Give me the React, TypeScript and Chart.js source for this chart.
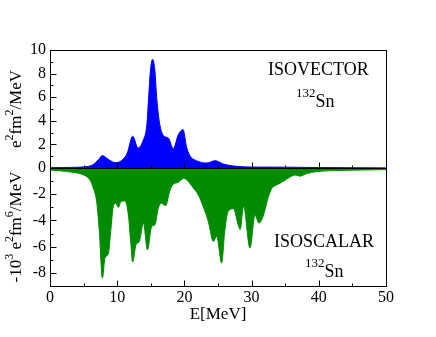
import React, { useEffect, useRef } from "react";
import { Chart, registerables } from "chart.js";

Chart.register(...registerables);

// Isovector strength (e^2 fm^2 / MeV) vs E [MeV]
const isovectorE = [0, 2, 4, 5.5, 6.4, 7.2, 7.8, 8.4, 8.9, 9.7, 10.7, 11.5, 12.3, 13.1, 13.9, 14.4, 14.7, 14.95, 15.27, 15.6, 15.9, 16.4, 17.1, 17.6, 18.35, 19.1, 19.8, 20.3, 20.8, 21.8, 23.3, 24.6, 25.8, 27.8, 30, 35, 40, 45, 50];
const isovectorS = [0.03, 0.04, 0.06, 0.12, 0.28, 0.7, 1.05, 0.85, 0.65, 0.45, 0.65, 1.27, 2.7, 1.7, 2.4, 3.6, 6.2, 8.3, 9.2, 8.3, 5.8, 3.5, 2.65, 2.55, 1.64, 2.83, 3.26, 1.84, 1.05, 0.62, 0.42, 0.62, 0.34, 0.14, 0.08, 0.07, 0.04, 0.02, 0.01];

// Isoscalar strength (-10^3 e^2 fm^6 / MeV) vs E [MeV]
const isoscalarE = [0, 3, 5, 5.95, 6.45, 6.94, 7.34, 7.8, 8.18, 8.7, 9.03, 9.42, 9.77, 10.17, 10.57, 11.16, 11.66, 12.0, 12.3, 12.8, 13.3, 13.9, 14.5, 15.13, 15.62, 16.1, 16.6, 17.2, 17.86, 18.35, 19.1, 19.9, 20.6, 21.3, 22.07, 22.8, 23.56, 24.3, 24.8, 25.55, 26.0, 26.5, 27.3, 28.0, 28.3, 28.8, 29.76, 30.5, 31.1, 31.7, 32.5, 33.0, 33.5, 34.2, 35.2, 36.5, 37.2, 38.2, 39.6, 42, 47, 50];
const isoscalarS = [-0.15, -0.3, -0.53, -0.91, -1.55, -2.56, -4.84, -8.4, -6.87, -6.5, -4.84, -2.94, -2.69, -3.0, -2.56, -2.51, -3.57, -5.6, -7.17, -5.85, -5.6, -4.2, -6.24, -4.46, -4.33, -3.07, -2.69, -2.87, -1.67, -1.24, -1.09, -0.79, -1.04, -1.5, -2.05, -2.94, -4.08, -5.6, -5.22, -7.25, -4.84, -3.32, -3.1, -4.33, -4.7, -2.9, -6.1, -3.6, -4.2, -3.7, -2.2, -1.55, -1.35, -1.17, -0.85, -0.53, -0.62, -0.42, -0.28, -0.2, -0.15, -0.12];

const xTicks = [0, 10, 20, 30, 40, 50];
const yTopTicks = [0, 2, 4, 6, 8, 10];
const yBotTicks = [-2, -4, -6, -8];

const FONT = "'Liberation Serif', 'Times New Roman', serif";
const BLUE = "#0000ff";
const GREEN = "#008b00";

type Seg = { t: string; sup?: boolean };

function drawRich(
  ctx: CanvasRenderingContext2D,
  segs: Seg[],
  x: number,
  y: number,
  size: number,
  supSize: number,
  raise: number,
  rotate: boolean,
  center: boolean
) {
  ctx.save();
  ctx.translate(x, y);
  if (rotate) ctx.rotate(-Math.PI / 2);
  const big = `${size}px ${FONT}`;
  const small = `${supSize}px ${FONT}`;
  let total = 0;
  for (const s of segs) {
    ctx.font = s.sup ? small : big;
    total += ctx.measureText(s.t).width;
  }
  let px = center ? -total / 2 : 0;
  ctx.textAlign = "left";
  ctx.textBaseline = "alphabetic";
  ctx.fillStyle = "#000";
  for (const s of segs) {
    ctx.font = s.sup ? small : big;
    ctx.fillText(s.t, px, s.sup ? -raise : 0);
    px += ctx.measureText(s.t).width;
  }
  ctx.restore();
}

const decor = {
  id: "decor",
  afterDatasetsDraw(chart: any) {
    const { ctx, chartArea: a, scales } = chart;
    const xs = scales.x;
    const yt = scales.yTop;
    const yb = scales.yBot;
    const L = Math.round(a.left) + 0.5;
    const R = Math.round(a.right) + 0.5;
    const T = Math.round(a.top) + 0.5;
    const B = Math.round(a.bottom) + 0.5;
    const Z = Math.round(yt.getPixelForValue(0)) + 0.5;
    ctx.save();
    ctx.lineWidth = 1;
    ctx.strokeStyle = "#000";
    // frame
    ctx.strokeRect(L, T, R - L, B - T);
    // zero line
    ctx.beginPath();
    ctx.moveTo(L, Z);
    ctx.lineTo(R, Z);
    ctx.stroke();
    const MAJ = 6;
    const MIN = 3;
    // x ticks (inward) at bottom and at zero line
    const xv = xs.ticks.map((t: any) => t.value);
    const drawX = (v: number, len: number) => {
      const px = Math.round(xs.getPixelForValue(v)) + 0.5;
      ctx.beginPath();
      ctx.moveTo(px, B);
      ctx.lineTo(px, B - len);
      ctx.moveTo(px, Z);
      ctx.lineTo(px, Z - len);
      ctx.stroke();
    };
    for (let i = 0; i < xv.length; i++) {
      drawX(xv[i], MAJ);
      if (i < xv.length - 1) drawX((xv[i] + xv[i + 1]) / 2, MIN);
    }
    // y ticks (inward)
    const drawY = (sc: any, v: number, len: number) => {
      const py = Math.round(sc.getPixelForValue(v)) + 0.5;
      ctx.beginPath();
      ctx.moveTo(L, py);
      ctx.lineTo(L + len, py);
      ctx.stroke();
    };
    const tv = yt.ticks.map((t: any) => t.value).sort((p: number, q: number) => p - q);
    for (let i = 0; i < tv.length; i++) {
      drawY(yt, tv[i], MAJ);
      if (i < tv.length - 1) drawY(yt, (tv[i] + tv[i + 1]) / 2, MIN);
    }
    const bv = [0, ...yb.ticks.map((t: any) => t.value)].sort((p: number, q: number) => q - p);
    for (let i = 0; i < bv.length; i++) {
      if (bv[i] !== 0) drawY(yb, bv[i], MAJ);
      if (i < bv.length - 1) drawY(yb, (bv[i] + bv[i + 1]) / 2, MIN);
    }
    ctx.restore();

    // axis titles
    const topMid = (yt.top + yt.bottom) / 2;
    const botMid = (yb.top + yb.bottom) / 2;
    drawRich(
      ctx,
      [{ t: "e" }, { t: "2", sup: true }, { t: "fm" }, { t: "2", sup: true }, { t: "/MeV" }],
      21,
      topMid,
      17,
      12,
      8,
      true,
      true
    );
    drawRich(
      ctx,
      [{ t: "-10" }, { t: "3", sup: true }, { t: " e" }, { t: "2", sup: true }, { t: "fm" }, { t: "6", sup: true }, { t: "/MeV" }],
      21,
      botMid,
      17,
      12,
      8,
      true,
      true
    );

    // in-plot labels
    ctx.save();
    ctx.fillStyle = "#000";
    ctx.font = `18px ${FONT}`;
    ctx.textBaseline = "alphabetic";
    ctx.textAlign = "left";
    ctx.fillText("ISOVECTOR", a.right - 118, a.top + 25);
    ctx.fillText("ISOSCALAR", a.right - 112, a.bottom - 39);
    ctx.restore();
    drawRich(ctx, [{ t: "132", sup: true }, { t: "Sn" }], a.right - 90, a.top + 57, 18, 13, 10, false, false);
    drawRich(ctx, [{ t: "132", sup: true }, { t: "Sn" }], a.right - 81, a.bottom - 9, 18, 13, 10, false, false);
  },
};

export default function App() {
  const ref = useRef<HTMLCanvasElement | null>(null);
  useEffect(() => {
    if (!ref.current) return;
    const tickFont = { family: FONT, size: 16 };
    const chart = new Chart(ref.current, {
      type: "line",
      data: {
        datasets: [
          {
            label: "isoscalar",
            data: isoscalarE.map((e, i) => ({ x: e, y: isoscalarS[i] })),
            yAxisID: "yBot",
            borderColor: GREEN,
            backgroundColor: GREEN,
            borderWidth: 1,
            pointRadius: 0,
            fill: "origin",
            cubicInterpolationMode: "monotone",
          },
          {
            label: "isovector",
            data: isovectorE.map((e, i) => ({ x: e, y: isovectorS[i] })),
            yAxisID: "yTop",
            borderColor: BLUE,
            backgroundColor: BLUE,
            borderWidth: 1,
            pointRadius: 0,
            fill: "origin",
            cubicInterpolationMode: "monotone",
          },
        ],
      },
      options: {
        animation: false,
        responsive: true,
        maintainAspectRatio: false,
        layout: { padding: { left: 0, top: 50, right: 50, bottom: 8 } },
        plugins: { legend: { display: false }, tooltip: { enabled: false } },
        scales: {
          x: {
            type: "linear",
            min: 0,
            max: 50,
            afterBuildTicks: (s: any) => {
              s.ticks = xTicks.map((v) => ({ value: v }));
            },
            afterFit: (s: any) => {
              s.height = 43;
            },
            grid: { display: false, drawTicks: false },
            border: { display: false },
            ticks: { font: tickFont, color: "#000", padding: 2, maxRotation: 0, autoSkip: false },
            title: {
              display: true,
              text: "E[MeV]",
              color: "#000",
              font: { family: FONT, size: 17 },
              padding: { top: 0, bottom: 4 },
            },
          },
          yTop: {
            type: "linear",
            position: "left",
            stack: "y",
            stackWeight: 1,
            weight: 2,
            min: 0,
            max: 10,
            afterBuildTicks: (s: any) => {
              s.ticks = yTopTicks.map((v) => ({ value: v }));
            },
            afterFit: (s: any) => {
              s.width = 50;
            },
            grid: { display: false, drawTicks: false },
            border: { display: false },
            ticks: { font: tickFont, color: "#000", padding: 4, autoSkip: false },
          },
          yBot: {
            type: "linear",
            position: "left",
            stack: "y",
            stackWeight: 1,
            weight: 1,
            min: -9,
            max: 0,
            afterBuildTicks: (s: any) => {
              s.ticks = yBotTicks.map((v) => ({ value: v }));
            },
            afterFit: (s: any) => {
              s.width = 50;
            },
            grid: { display: false, drawTicks: false },
            border: { display: false },
            ticks: { font: tickFont, color: "#000", padding: 4, autoSkip: false },
          },
        },
      } as any,
      plugins: [decor],
    });
    return () => chart.destroy();
  }, []);
  return (
    <div style={{ position: "absolute", left: 0, top: 0, width: 436, height: 337, background: "#fff" }}>
      <canvas ref={ref} />
    </div>
  );
}
